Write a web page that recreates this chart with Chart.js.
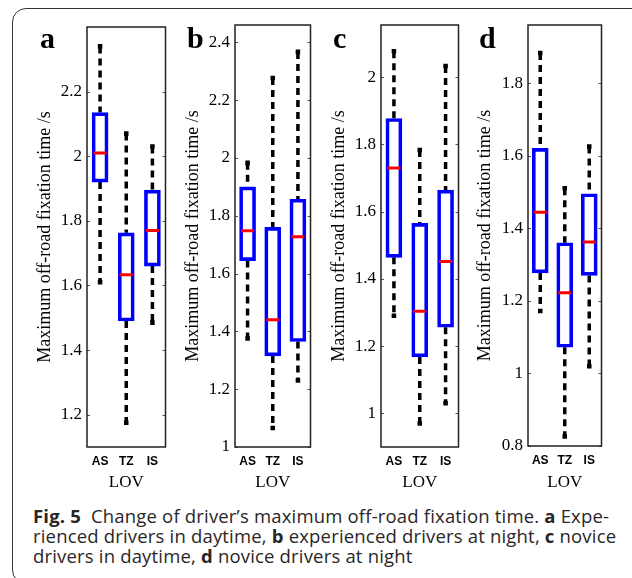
<!DOCTYPE html>
<html>
<head>
<meta charset="utf-8">
<script src="https://cdn.jsdelivr.net/npm/chart.js@4.4.1/dist/chart.umd.min.js"></script>
<style>
  html, body { margin:0; padding:0; background:#fff; }
  body { width:632px; height:578px; position:relative; overflow:hidden; }
  #frame { position:absolute; left:12px; top:8px; width:640px; height:576px; border:1.5px solid #333; border-radius:14px; box-sizing:border-box; }
  canvas { position:absolute; top:0; }
  .letter { position:absolute; top:23px; font:bold 30px "Liberation Serif", "DejaVu Serif", serif; line-height:30px; color:#000; z-index:5; }
  #caption { position:absolute; left:33px; top:506px; font:18.5px "Open Sans", "Noto Sans", sans-serif; letter-spacing:0.18px; line-height:20px; color:#2a2627; white-space:nowrap; }
  #caption b { font-weight:bold; }
</style>
</head>
<body>
<div id="frame"></div>
<canvas id="ca" width="145" height="500" style="left:30px"></canvas>
<canvas id="cb" width="142" height="500" style="left:178px"></canvas>
<canvas id="cc" width="144" height="500" style="left:324px"></canvas>
<canvas id="cd" width="141" height="500" style="left:470px"></canvas>
<div class="letter" style="left:40px">a</div>
<div class="letter" style="left:187px">b</div>
<div class="letter" style="left:333px">c</div>
<div class="letter" style="left:479px">d</div>
<div id="caption"><b>Fig. 5</b>&nbsp; Change of driver’s maximum off-road fixation time. <b>a</b> Expe-<br>rienced drivers in daytime, <b>b</b> experienced drivers at night, <b>c</b> novice<br>drivers in daytime, <b>d</b> novice drivers at night</div>
<script>
// ---- data ----
const categories = ['AS', 'TZ', 'IS'];
const yTitle = 'Maximum off-road fixation time /s';
const xTitle = 'LOV';

// panel a: experienced drivers, daytime
const minA = [1.61, 1.175, 1.485];
const q1A  = [1.92, 1.49, 1.66];
const medA = [2.01, 1.633, 1.77];
const q3A  = [2.135, 1.763, 1.895];
const maxA = [2.34, 2.07, 2.03];
const ticksA = [1.2, 1.4, 1.6, 1.8, 2.0, 2.2];
const rangeA = [1.1, 2.4];

// panel b: experienced drivers, night
const minB = [1.375, 1.066, 1.23];
const q1B  = [1.645, 1.315, 1.365];
const medB = [1.748, 1.44, 1.727];
const q3B  = [1.90, 1.76, 1.857];
const maxB = [1.983, 2.277, 2.367];
const ticksB = [1.0, 1.2, 1.4, 1.6, 1.8, 2.0, 2.2, 2.4];
const rangeB = [1.0, 2.46];

// panel c: novice drivers, daytime
const minC = [1.29, 0.97, 1.03];
const q1C  = [1.464, 1.168, 1.256];
const medC = [1.73, 1.304, 1.452];
const q3C  = [1.877, 1.565, 1.664];
const maxC = [2.077, 1.783, 2.033];
const ticksC = [1.0, 1.2, 1.4, 1.6, 1.8, 2.0];
const rangeC = [0.9, 2.155];

// panel d: novice drivers, night
const minD = [1.172, 0.826, 1.02];
const q1D  = [1.277, 1.072, 1.27];
const medD = [1.444, 1.222, 1.362];
const q3D  = [1.62, 1.36, 1.495];
const maxD = [1.883, 1.51, 1.625];
const ticksD = [0.8, 1.0, 1.2, 1.4, 1.6, 1.8];
const rangeD = [0.8, 1.96];

const SERIF = "'Liberation Serif', 'Times New Roman', serif";

// ---- drawing ----
const frameBox = {
  id: 'frameBox',
  afterDatasetsDraw(chart) {
    const a = chart.chartArea, ctx = chart.ctx;
    const ys = chart.scales.y;
    ctx.save();
    ctx.strokeStyle = '#555';
    ctx.lineWidth = 1;
    ys.ticks.forEach(t => {
      const y = Math.round(ys.getPixelForValue(t.value)) + 0.5;
      ctx.beginPath();
      ctx.moveTo(a.left, y); ctx.lineTo(a.left + 3, y);
      ctx.moveTo(a.right, y); ctx.lineTo(a.right - 3, y);
      ctx.stroke();
    });
    ctx.strokeStyle = '#222';
    ctx.lineWidth = 1.5;
    ctx.strokeRect(a.left, a.top, a.right - a.left, a.bottom - a.top);
    ctx.restore();
  }
};

function makePanel(id, mins, q1s, meds, q3s, maxs, tickVals, range, geo) {
  const whiskers = [];
  const caps = [];
  categories.forEach((c, i) => {
    whiskers.push({x: c, y: maxs[i]}, {x: c, y: q3s[i]}, {x: c, y: null},
                  {x: c, y: q1s[i]}, {x: c, y: mins[i]}, {x: c, y: null});
    caps.push({x: c, y: mins[i]}, {x: c, y: maxs[i]});
  });
  new Chart(document.getElementById(id), {
    type: 'bar',
    data: {
      labels: categories,
      datasets: [
        { type: 'line', data: whiskers, borderColor: '#000', borderWidth: 3.5,
          borderDash: [7, 5], pointRadius: 0, spanGaps: false, fill: false, order: 3 },
        { type: 'bar', data: categories.map((c, i) => [q1s[i], q3s[i]]),
          backgroundColor: 'rgba(255,255,255,0)', borderColor: '#0000ff', borderWidth: 3,
          borderSkipped: false, barThickness: 16, order: 2 },
        { type: 'line', data: meds, showLine: false, pointStyle: 'line', pointRadius: 6.5,
          pointBorderWidth: 3, pointBorderColor: '#ff0000', borderColor: '#ff0000', order: 1 },
        { type: 'line', data: caps, showLine: false, pointStyle: 'rect', pointRadius: 3.2,
          pointBackgroundColor: '#000', pointBorderColor: '#000', pointBorderWidth: 0, order: 0 }
      ]
    },
    options: {
      responsive: false,
      animation: false,
      devicePixelRatio: 1,
      layout: { padding: { top: geo.top, left: 0, right: 2, bottom: 0 } },
      plugins: { legend: { display: false }, tooltip: { enabled: false } },
      scales: {
        x: {
          type: 'category',
          offset: true,
          grid: { display: false, drawTicks: false },
          border: { display: false },
          ticks: { color: '#000', padding: 7, font: { family: "'Liberation Sans', Arial, sans-serif", size: 12, weight: 'bold' } },
          title: { display: true, text: xTitle, color: '#000', padding: { top: 0, bottom: 7 },
                   font: { family: SERIF, size: 17 } },
          afterFit: s => { s.height = geo.xh; }
        },
        y: {
          type: 'linear',
          min: range[0], max: range[1],
          grid: { display: false, drawTicks: false },
          border: { display: false },
          afterBuildTicks: s => { s.ticks = tickVals.map(v => ({ value: v })); },
          ticks: { color: '#000', padding: 5,
                   font: { family: SERIF, size: 17 },
                   callback: v => String(Number(v.toFixed(1))) },
          title: { display: true, text: yTitle, color: '#000', padding: { top: 4.2, bottom: 0 },
                   font: { family: SERIF, size: 18 } },
          afterFit: s => { s.width = geo.yw; }
        }
      }
    },
    plugins: [frameBox]
  });
}

makePanel('ca', minA, q1A, medA, q3A, maxA, ticksA, rangeA, { top: 27, yw: 57, xh: 53 });
makePanel('cb', minB, q1B, medB, q3B, maxB, ticksB, rangeB, { top: 25, yw: 57, xh: 53 });
makePanel('cc', minC, q1C, medC, q3C, maxC, ticksC, rangeC, { top: 25, yw: 57, xh: 53 });
makePanel('cd', minD, q1D, medD, q3D, maxD, ticksD, rangeD, { top: 25, yw: 58, xh: 54 });
</script>
</body>
</html>
